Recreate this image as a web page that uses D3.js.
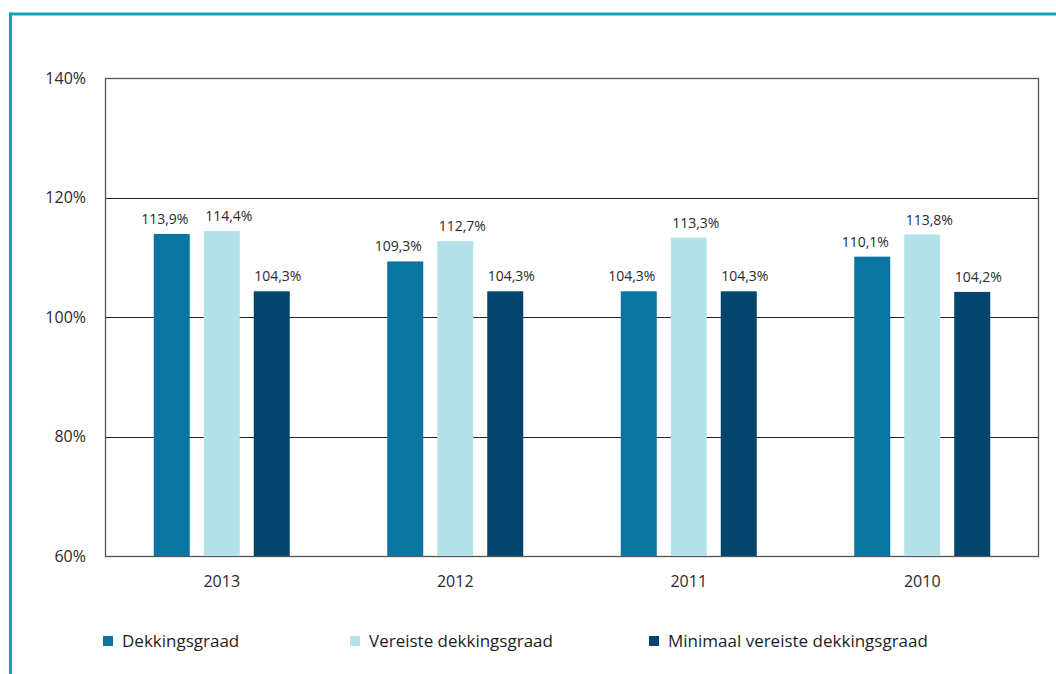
<!DOCTYPE html>
<html>
<head>
<meta charset="utf-8">
<script src="https://cdn.jsdelivr.net/npm/d3@7"></script>
<style>
  html, body { margin: 0; padding: 0; background: #fff; }
  svg { display: block; font-family: "Open Sans", "Noto Sans", sans-serif; }
</style>
</head>
<body>
<svg id="chart" width="1056" height="674"></svg>
<script>
// Dekkingsgraad per jaar
const years = ["2013", "2012", "2011", "2010"];
const seriesNames = ["Dekkingsgraad", "Vereiste dekkingsgraad", "Minimaal vereiste dekkingsgraad"];
const dekkingsgraad = [113.9, 109.3, 104.3, 110.1];
const vereiste = [114.4, 112.7, 113.3, 113.8];
const minimaal = [104.3, 104.3, 104.3, 104.2];
const yTicks = [60, 80, 100, 120, 140];
const colors = ["#0a75a1", "#b5e1e8", "#03456d"];

const seriesValues = [dekkingsgraad, vereiste, minimaal];

const svg = d3.select("#chart");
const W = 1056, H = 674;
const margin = { left: 105, right: 17, top: 78, bottom: 118 };
const plotW = W - margin.left - margin.right;
const plotH = H - margin.top - margin.bottom;

// Frame around the figure (top and left rule)
svg.append("line").attr("x1", 9).attr("x2", W).attr("y1", 14).attr("y2", 14)
  .attr("stroke", "#13a3bf").attr("stroke-width", 3);
svg.append("line").attr("x1", 10.5).attr("x2", 10.5).attr("y1", 12.5).attr("y2", H)
  .attr("stroke", "#13a3bf").attr("stroke-width", 3);

const g = svg.append("g").attr("transform", `translate(${margin.left},${margin.top})`);

const groupW = 136;
const x = d3.scaleBand().domain(years).range([0, plotW]);
const xInner = d3.scaleBand().domain(seriesNames).range([0, groupW]).paddingInner(0.28);
const y = d3.scaleLinear().domain([60, 140]).range([plotH, 0]);

// Gridlines
g.selectAll(".grid").data(yTicks.slice(1, -1)).join("line")
  .attr("x1", 0).attr("x2", plotW)
  .attr("y1", d => Math.round(y(d)) + 0.5).attr("y2", d => Math.round(y(d)) + 0.5)
  .attr("stroke", "#222").attr("stroke-width", 1);

// Plot border
g.append("rect").attr("x", 0.5).attr("y", 0.5).attr("width", plotW - 1).attr("height", plotH)
  .attr("fill", "none").attr("stroke", "#555").attr("stroke-width", 1.3);

// Y axis labels
const yAxis = d3.axisLeft(y).tickValues(yTicks).tickSize(0).tickPadding(19)
  .tickFormat(d => d + "%");
g.append("g").call(yAxis)
  .call(a => a.select(".domain").remove())
  .selectAll("text").attr("font-size", 16).attr("fill", "#2a2a2a")
  .attr("font-family", "\"Open Sans\", sans-serif");

// X axis labels
const xAxis = d3.axisBottom(x).tickSize(0).tickPadding(20);
g.append("g").attr("transform", `translate(0,${plotH})`).call(xAxis)
  .call(a => a.select(".domain").remove())
  .selectAll("text").attr("font-size", 16).attr("fill", "#2a2a2a")
  .attr("font-family", "\"Open Sans\", sans-serif");

// Bars and value labels
const rows = years.map((yr, i) => ({
  year: yr,
  values: seriesNames.map((s, j) => ({ series: s, idx: j, value: seriesValues[j][i] }))
}));

const groups = g.selectAll(".yr").data(rows).join("g")
  .attr("transform", d => `translate(${x(d.year) + x.bandwidth() / 2 - groupW / 2},0)`);

groups.selectAll("rect").data(d => d.values).join("rect")
  .attr("x", d => xInner(d.series))
  .attr("width", xInner.bandwidth())
  .attr("y", d => y(d.value))
  .attr("height", d => y(60) - y(d.value))
  .attr("fill", d => colors[d.idx]);

// labels sit slightly off-centre so neighbouring values don't collide
const labelShift = [-7, 7, 6];
groups.selectAll("text").data(d => d.values).join("text")
  .attr("x", d => xInner(d.series) + xInner.bandwidth() / 2 + labelShift[d.idx])
  .attr("y", d => y(d.value) - 10)
  .attr("text-anchor", "middle")
  .attr("font-size", 14).attr("fill", "#2a2a2a")
  .text(d => d.value.toFixed(1).replace(".", ",") + "%");

// Legend
const legendX = [103, 350, 649];
const legend = svg.selectAll(".legend").data(seriesNames).join("g")
  .attr("transform", (d, i) => `translate(${legendX[i]},636)`);
legend.append("rect").attr("width", 10).attr("height", 10).attr("fill", (d, i) => colors[i]);
legend.append("text").attr("x", 19).attr("y", 11).attr("font-size", 17)
  .attr("fill", "#1e1e1e").text(d => d);
</script>
</body>
</html>
